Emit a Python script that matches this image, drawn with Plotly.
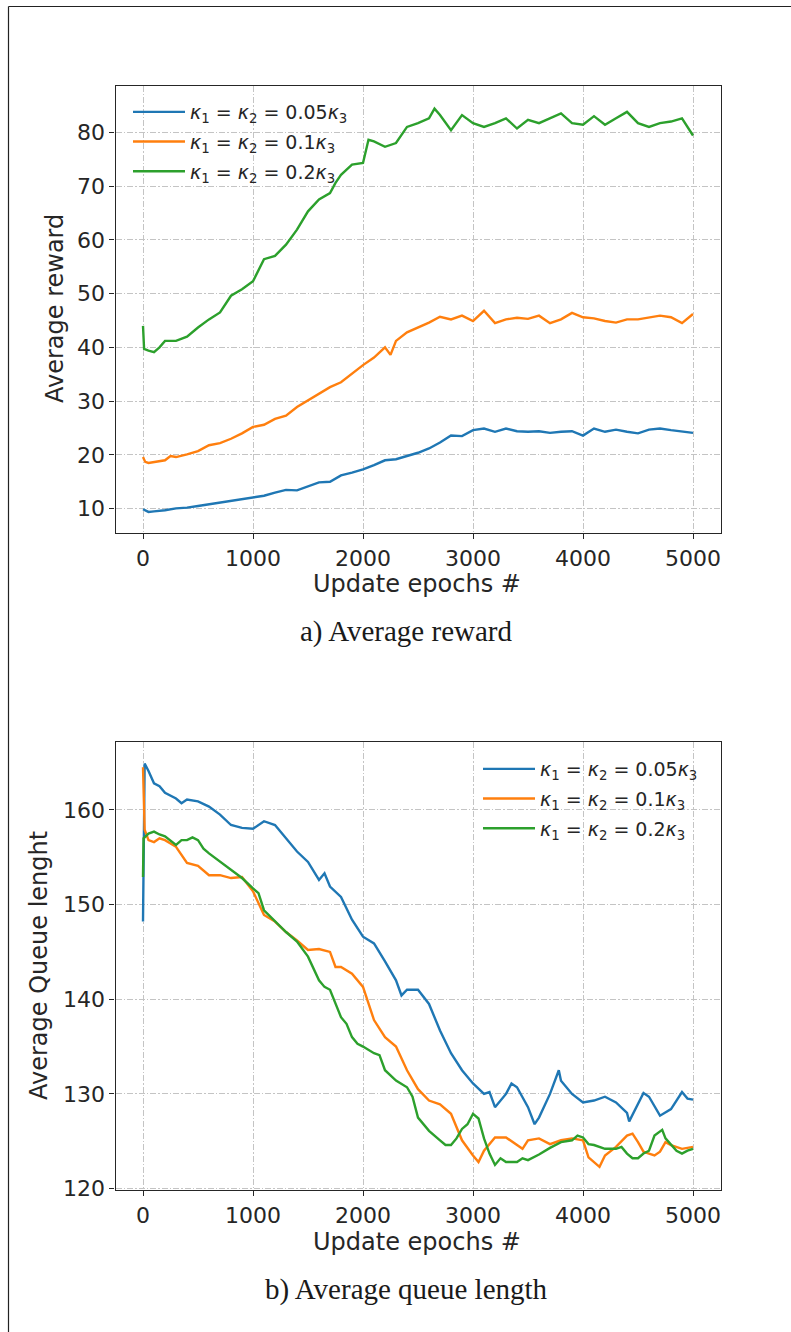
import plotly.graph_objects as go

# ---------------- data: average reward ----------------
reward_blue_epochs = [0, 50, 100, 200, 300, 400, 500, 600, 700, 800, 900, 1000, 1100, 1200,
                      1300, 1400, 1500, 1600, 1700, 1800, 1900, 2000, 2100, 2200, 2300, 2400,
                      2500, 2600, 2700, 2800, 2900, 3000, 3100, 3200, 3300, 3400, 3500, 3600,
                      3700, 3800, 3900, 4000, 4100, 4200, 4300, 4400, 4500, 4600, 4700, 4800,
                      4900, 5000]
reward_blue = [9.9, 9.4, 9.5, 9.7, 10.05, 10.2, 10.5, 10.8, 11.1, 11.4, 11.7, 12.0, 12.4, 13.0,
               13.5, 13.4, 14.1, 14.9, 15.0, 16.2, 16.7, 17.3, 18.1, 19.0, 19.2, 19.75,
               20.4, 21.2, 22.3, 23.6, 23.5, 24.6, 24.9, 24.3, 24.9, 24.4, 24.3, 24.4,
               24.1, 24.3, 24.4, 23.6, 24.9, 24.3, 24.7, 24.3, 24.0, 24.7, 24.9, 24.6,
               24.4, 24.1]

reward_orange_epochs = [0, 20, 50, 100, 200, 250, 300, 400, 500, 600, 700, 800, 900, 1000,
                        1100, 1200, 1300, 1400, 1500, 1600, 1700, 1800, 1900, 2000, 2100, 2200,
                        2250, 2300, 2400, 2500, 2600, 2700, 2800, 2900, 3000, 3100, 3200, 3300,
                        3400, 3500, 3600, 3700, 3800, 3900, 4000, 4100, 4200, 4300, 4400, 4500,
                        4600, 4700, 4800, 4900, 5000]
reward_orange = [19.6, 18.7, 18.5, 18.7, 19.0, 19.8, 19.6, 20.1, 20.7, 21.8, 22.2, 23.0, 24.0, 25.2,
                 25.6, 26.7, 27.3, 28.9, 30.1, 31.3, 32.6, 33.5, 35.1, 36.7, 38.1, 40.0,
                 38.6, 41.2, 42.8, 43.7, 44.6, 45.7, 45.2, 45.9, 44.9, 46.8, 44.5, 45.2,
                 45.5, 45.3, 45.9, 44.5, 45.2, 46.4, 45.6, 45.4, 44.9, 44.6, 45.2, 45.2,
                 45.6, 45.9, 45.6, 44.5, 46.2]

reward_green_epochs = [0, 10, 50, 100, 150, 200, 300, 400, 500, 600, 700, 800, 900, 1000,
                       1100, 1200, 1300, 1400, 1500, 1600, 1700, 1750, 1800, 1900, 2000, 2050,
                       2100, 2200, 2300, 2400, 2500, 2600, 2650, 2700, 2800, 2900, 3000, 3100,
                       3200, 3300, 3400, 3500, 3600, 3700, 3800, 3900, 4000, 4100, 4200, 4300,
                       4400, 4500, 4600, 4700, 4800, 4900, 5000]
reward_green = [44.0, 39.7, 39.4, 39.1, 40.0, 41.2, 41.2, 42.0, 43.7, 45.2, 46.5, 49.6, 50.8, 52.3,
                56.4, 57.0, 59.1, 61.9, 65.3, 67.5, 68.7, 70.6, 72.1, 74.0, 74.3, 78.6,
                78.3, 77.3, 78.0, 81.0, 81.7, 82.6, 84.4, 83.2, 80.4, 83.2, 81.7, 81.0,
                81.7, 82.6, 80.7, 82.3, 81.7, 82.6, 83.5, 81.7, 81.4, 83.0, 81.4, 82.6,
                83.8, 81.7, 81.0, 81.7, 82.0, 82.6, 79.4]

# ---------------- data: average queue length ----------------
queue_blue_epochs = [0, 15, 50, 100, 150, 200, 300, 350, 400, 500, 600, 700, 800, 900, 1000,
                     1100, 1200, 1300, 1400, 1500, 1600, 1650, 1700, 1800, 1900, 2000, 2100,
                     2200, 2300, 2350, 2400, 2500, 2600, 2700, 2800, 2900, 3000, 3100, 3150,
                     3200, 3300, 3350, 3400, 3500, 3560, 3600, 3700, 3780, 3800, 3900, 4000,
                     4100, 4200, 4300, 4400, 4420, 4500, 4550, 4600, 4700, 4800, 4900, 4950,
                     5000]
queue_blue = [148.2, 164.9, 164.1, 162.8, 162.5, 161.8, 161.2, 160.7, 161.1, 160.9, 160.35, 159.5,
              158.4, 158.1, 158.0, 158.8, 158.4, 157.0, 155.6, 154.5, 152.6, 153.3, 151.9, 150.8,
              148.4, 146.6, 145.9, 144.0, 142.0, 140.4, 141.0, 141.0, 139.5, 136.7, 134.3, 132.5,
              131.1, 130.0, 130.2, 128.6, 130.0, 131.1, 130.7, 128.6, 126.8, 127.5, 130.0, 132.5,
              131.4, 130.0, 129.1, 129.3, 129.7, 129.1, 128.0, 127.1, 129.0, 130.1, 129.7, 127.7,
              128.4, 130.2, 129.5, 129.4]

queue_orange_epochs = [0, 15, 50, 100, 150, 200, 300, 400, 500, 600, 700, 800, 900, 1000, 1100,
                       1200, 1300, 1400, 1500, 1600, 1700, 1750, 1800, 1900, 2000, 2100, 2200,
                       2300, 2400, 2500, 2600, 2700, 2800, 2900, 3000, 3050, 3100, 3200, 3300,
                       3400, 3450, 3500, 3600, 3700, 3800, 3900, 4000, 4050, 4100, 4150, 4200,
                       4300, 4400, 4450, 4500, 4550, 4600, 4650, 4700, 4750, 4800, 4900, 5000]
queue_orange = [164.5, 157.9, 156.8, 156.6, 157.0, 156.8, 156.1, 154.4, 154.1, 153.1, 153.1, 152.8,
                152.9, 151.4, 148.9, 148.2, 147.1, 146.2, 145.2, 145.3, 145.0, 143.4, 143.4, 142.7,
                141.3, 137.8, 136.0, 135.0, 132.5, 130.5, 129.3, 128.9, 127.9, 125.1, 123.5, 122.8,
                124.0, 125.4, 125.4, 124.6, 124.2, 125.1, 125.3, 124.7, 125.1, 125.3, 125.1, 123.3,
                122.8, 122.3, 123.5, 124.4, 125.6, 125.8, 124.9, 123.9, 123.7, 123.5, 123.9, 124.9,
                124.6, 124.2, 124.4]

queue_green_epochs = [0, 5, 50, 100, 150, 200, 300, 350, 400, 450, 500, 550, 600, 700, 800, 900,
                      1000, 1050, 1100, 1200, 1300, 1400, 1500, 1600, 1650, 1700, 1750, 1800,
                      1850, 1900, 1950, 2000, 2100, 2150, 2200, 2300, 2400, 2450, 2500, 2600,
                      2700, 2750, 2800, 2850, 2900, 2950, 3000, 3050, 3100, 3150, 3200, 3250,
                      3300, 3400, 3450, 3500, 3600, 3700, 3800, 3900, 3950, 4000, 4050, 4100,
                      4200, 4300, 4350, 4400, 4450, 4500, 4550, 4600, 4650, 4700, 4720, 4750,
                      4800, 4850, 4900, 4950, 5000]
queue_green = [152.9, 157.0, 157.5, 157.7, 157.4, 157.2, 156.3, 156.8, 156.8, 157.1, 156.8, 155.9,
               155.4, 154.5, 153.7, 152.8, 151.7, 151.2, 149.4, 148.2, 147.1, 146.1, 144.5, 142.0,
               141.3, 141.0, 139.5, 138.1, 137.4, 136.0, 135.3, 135.0, 134.3, 134.1, 132.5, 131.4,
               130.7, 129.7, 127.5, 126.1, 125.1, 124.6, 124.6, 125.3, 126.3, 126.8, 127.9, 127.4,
               125.3, 123.7, 122.5, 123.2, 122.8, 122.8, 123.2, 123.0, 123.6, 124.3, 124.9, 125.1,
               125.6, 125.4, 124.7, 124.6, 124.2, 124.2, 124.4, 123.7, 123.2, 123.2, 123.7, 124.0,
               125.6, 126.0, 126.2, 125.3, 124.7, 124.0, 123.7, 124.0, 124.2]

series_labels = [
    "<i>κ</i><sub>1</sub> = <i>κ</i><sub>2</sub> = 0.05<i>κ</i><sub>3</sub>",
    "<i>κ</i><sub>1</sub> = <i>κ</i><sub>2</sub> = 0.1<i>κ</i><sub>3</sub>",
    "<i>κ</i><sub>1</sub> = <i>κ</i><sub>2</sub> = 0.2<i>κ</i><sub>3</sub>",
]
series_colors = ["#1f77b4", "#ff7f0e", "#2ca02c"]
x_ticks = [0, 1000, 2000, 3000, 4000, 5000]
reward_ticks = [10, 20, 30, 40, 50, 60, 70, 80]
queue_ticks = [120, 130, 140, 150, 160]

# ---------------- figure ----------------
W, H = 791, 1332


def px_x(p):
    return p / W


def px_y(p):
    return 1 - p / H


fig = go.Figure()

reward_sets = [(reward_blue_epochs, reward_blue), (reward_orange_epochs, reward_orange),
               (reward_green_epochs, reward_green)]
queue_sets = [(queue_blue_epochs, queue_blue), (queue_orange_epochs, queue_orange),
              (queue_green_epochs, queue_green)]

for i, (ex, ey) in enumerate(reward_sets):
    fig.add_trace(go.Scatter(x=ex, y=ey, mode="lines", name=series_labels[i],
                             line=dict(color=series_colors[i], width=2.4),
                             xaxis="x", yaxis="y", legend="legend",
                             legendgroup="r%d" % i))
for i, (ex, ey) in enumerate(queue_sets):
    fig.add_trace(go.Scatter(x=ex, y=ey, mode="lines", name=series_labels[i],
                             line=dict(color=series_colors[i], width=2.4),
                             xaxis="x2", yaxis="y2", legend="legend2",
                             legendgroup="q%d" % i))

ink = "#262626"
tick_font = dict(family="DejaVu Sans", size=22, color=ink)
axis_common = dict(showline=True, linecolor=ink, linewidth=1.3, mirror=True,
                   ticks="outside", ticklen=5, tickwidth=1.2, tickcolor=ink,
                   showgrid=True, gridcolor="#c4c4c4", gridwidth=1,
                   griddash="6px,2px,1.5px,2px", zeroline=False, tickfont=tick_font,
                   automargin=False)

x_dom = [px_x(115.5), px_x(720.5)]
legend_font = dict(family="DejaVu Sans", size=19, color=ink)

fig.update_layout(
    width=W, height=H, autosize=False,
    margin=dict(l=0, r=0, t=0, b=0, pad=0),
    paper_bgcolor="white", plot_bgcolor="white",
    xaxis=dict(domain=x_dom, anchor="y", range=[-250, 5250], tickvals=x_ticks, **axis_common),
    yaxis=dict(domain=[px_y(533.3), px_y(85.5)], anchor="x", range=[5.42, 88.7],
               tickvals=reward_ticks, **axis_common),
    xaxis2=dict(domain=x_dom, anchor="y2", range=[-250, 5250], tickvals=x_ticks, **axis_common),
    yaxis2=dict(domain=[px_y(1190), px_y(741.7)], anchor="x2", range=[119.85, 167.2],
                tickvals=queue_ticks, **axis_common),
    legend=dict(x=px_x(128), y=px_y(93), xanchor="left", yanchor="top",
                bgcolor="rgba(0,0,0,0)", borderwidth=0, tracegroupgap=2, itemwidth=52,
                font=legend_font),
    legend2=dict(x=px_x(478), y=px_y(750), xanchor="left", yanchor="top",
                 bgcolor="rgba(0,0,0,0)", borderwidth=0, tracegroupgap=2, itemwidth=52,
                 font=legend_font),
    showlegend=True,
)

label_font = dict(family="DejaVu Sans", size=24, color=ink)
caption_font = dict(family="Liberation Serif", size=29, color="#1a1a1a")
notes = [
    ("Update epochs #", 417, 584, label_font, 0),
    ("Update epochs #", 417, 1242, label_font, 0),
    ("Average reward", 55, 309, label_font, -90),
    ("Average Queue lenght", 39, 966, label_font, -90),
    ("a) Average reward", 406, 631, caption_font, 0),
    ("b) Average queue length", 406, 1289, caption_font, 0),
]
for text, cx, cy, fnt, ang in notes:
    fig.add_annotation(text=text, x=px_x(cx), y=px_y(cy), xref="paper", yref="paper",
                       xanchor="center", yanchor="middle", showarrow=False,
                       font=fnt, textangle=ang)

# page frame (top and left edges)
frame = dict(color="#222222", width=1.2)
fig.add_shape(type="line", xref="paper", yref="paper",
              x0=px_x(8.5), y0=px_y(6.5), x1=1, y1=px_y(6.5), line=frame)
fig.add_shape(type="line", xref="paper", yref="paper",
              x0=px_x(8.5), y0=px_y(6.5), x1=px_x(8.5), y1=0, line=frame)

fig.write_html("out.html")
